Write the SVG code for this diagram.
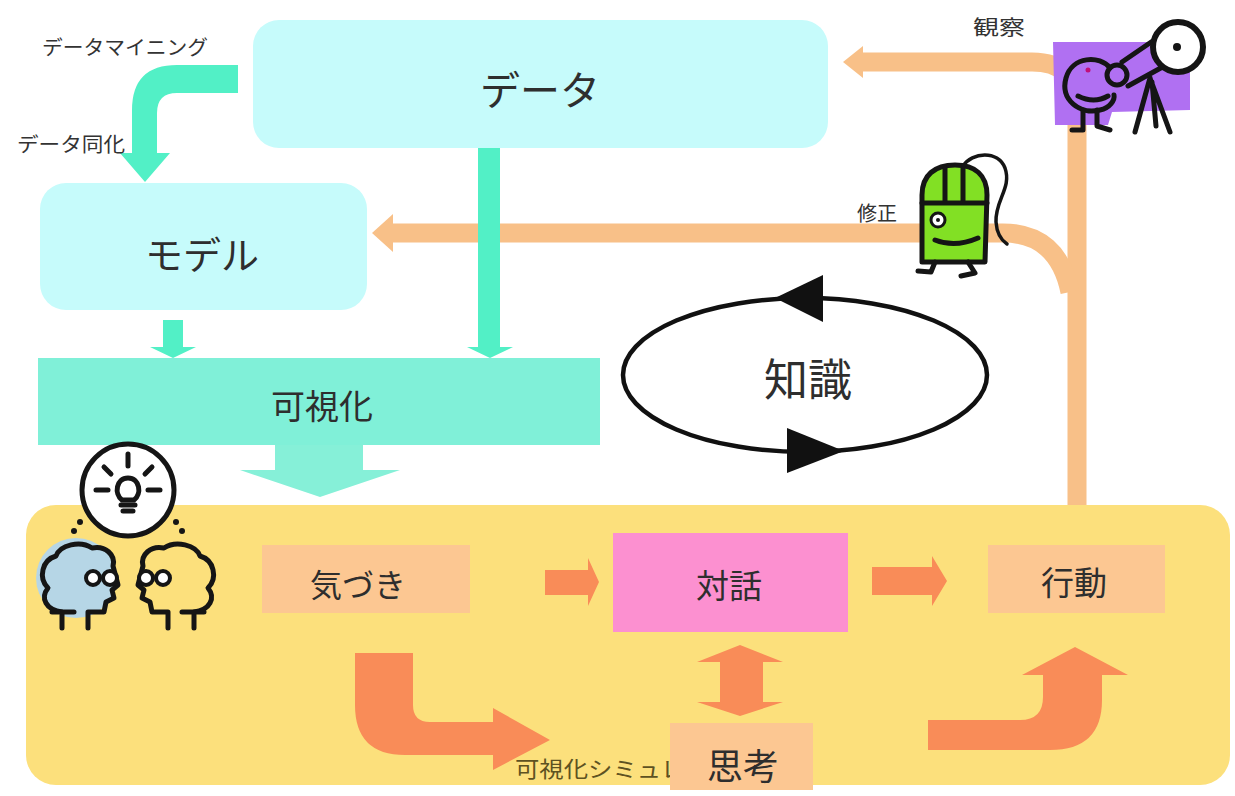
<svg xmlns="http://www.w3.org/2000/svg" width="1235" height="796" viewBox="0 0 1235 796">
  <style>
    .lbl { font-family: "Noto Sans CJK JP", "Noto Sans", sans-serif; fill: #2e2e2e; text-anchor: middle; dominant-baseline: central; }
    .small { font-family: "Noto Sans CJK JP", "Noto Sans", sans-serif; fill: #333; font-size: 20px; }
    .cyanbox { fill: #c6fbfb; }
    .greenarrow { fill: #52f0c6; }
    .peach { fill: none; stroke: #f8c088; stroke-width: 19; }
    .peachhead { fill: #f8c088; }
    .coral { fill: #f98c58; }
    .step { fill: #fcc792; }
    .ink { fill: none; stroke: #151515; stroke-width: 5; stroke-linecap: round; stroke-linejoin: round; }
  </style>

  <rect width="1235" height="796" fill="#ffffff"/>

  <!-- bottom panel -->
  <g id="panel">
    <rect x="26" y="505" width="1204" height="280" rx="30" fill="#fce07c"/>
  </g>

  <!-- top data store -->
  <g id="data">
    <rect class="cyanbox" x="253" y="20" width="575" height="128" rx="26"/>
    <text class="lbl" x="540" y="88" font-size="40">データ</text>
  </g>

  <g id="model">
    <rect class="cyanbox" x="40" y="183" width="327" height="127" rx="26"/>
    <text class="lbl" x="202" y="252" font-size="38">モデル</text>
  </g>

  <g id="visualization">
    <rect x="38" y="358" width="562" height="87" fill="#80f0d8"/>
    <text class="lbl" x="322" y="404" font-size="34">可視化</text>
    <path d="M275 445 H363 V470 H400 L320 497 L240 470 H275 Z" fill="#86f0d8"/>
  </g>

  <!-- knowledge loop -->
  <g id="knowledge">
    <ellipse cx="805" cy="375" rx="182" ry="77" fill="none" stroke="#111" stroke-width="4.5"/>
    <polygon points="775,298 823,275 823,322" fill="#111"/>
    <polygon points="844,451 787,428 787,473" fill="#111"/>
    <text class="lbl" x="808" y="377" font-size="44">知識</text>
  </g>

  <!-- connectors -->
  <g id="connectors">
    <!-- observation feed back to data -->
    <path class="peach" d="M860 62 H1032 Q1077 62 1077 107 V505"/>
    <polygon class="peachhead" points="843,62 863,46 863,78"/>
    <!-- correction feed back to model -->
    <path class="peach" d="M390 233 H1003 Q1058 233 1070 292"/>
    <polygon class="peachhead" points="372,233 393,214 393,252"/>

    <!-- data mining / assimilation -->
    <path class="greenarrow" d="M238 65 H177 Q132 65 132 110 V153 H120 L145 182 L170 153 H157 V113 Q157 93 177 93 H238 Z"/>
    <!-- data to visualization -->
    <path class="greenarrow" d="M478 148 H500 V347 H513 L490 358 L467 347 H478 Z"/>
    <!-- model to visualization -->
    <path class="greenarrow" d="M163 320 H183 V347 H196 L173 358 L150 347 H163 Z"/>

    <!-- flow inside the panel -->
    <path class="coral" d="M545 570 H588 V558 L599 582 L588 606 V595 H545 Z"/>
    <path class="coral" d="M872 567 H932 V556 L947 581 L932 606 V595 H872 Z"/>
    <path class="coral" d="M720 662 H697 L740 645 L783 662 H763 V702 H783 L740 716 L697 702 H720 Z"/>
    <path class="coral" d="M355 653 V705 Q355 755 405 755 H493 V770 L550 740 L493 708 V722 H430 Q413 722 413 705 V653 Z"/>
    <path class="coral" d="M928 720 H1020 Q1043 720 1043 697 V675 H1022 L1075 647 L1128 675 H1102 V700 Q1102 750 1050 750 H928 Z"/>

    <text class="small" x="42" y="55" textLength="166" lengthAdjust="spacingAndGlyphs">データマイニング</text>
    <text class="small" x="17" y="152" textLength="108" lengthAdjust="spacingAndGlyphs">データ同化</text>
    <text class="small" x="973" y="35" font-size="22" textLength="52" lengthAdjust="spacingAndGlyphs">観察</text>
    <text class="small" x="857" y="221" font-size="24">修正</text>
    <text x="515" y="777" font-family="Noto Sans CJK JP, Noto Sans, sans-serif" font-size="22" fill="#5e5222" textLength="170" lengthAdjust="spacingAndGlyphs">可視化シミュレ</text>
  </g>

  <!-- steps -->
  <g id="awareness">
    <rect class="step" x="262" y="545" width="208" height="68"/>
    <text class="lbl" x="358" y="583" font-size="32">気づき</text>
  </g>
  <g id="dialogue">
    <rect x="613" y="533" width="235" height="99" fill="#fc90d0"/>
    <text class="lbl" x="729" y="584" font-size="33">対話</text>
  </g>
  <g id="action">
    <rect class="step" x="988" y="545" width="177" height="68"/>
    <text class="lbl" x="1074" y="581" font-size="33">行動</text>
  </g>
  <g id="thinking">
    <rect class="step" x="670" y="723" width="143" height="67"/>
    <text class="lbl" x="743" y="764" font-size="36">思考</text>
  </g>

  <!-- observer with telescope -->
  <g id="observer">
    <polygon points="1053,42 1190,42 1190,110 1112,112 1108,125 1055,125" fill="#b070f2"/>
    <path class="ink" d="M1110 68 C1100 55 1072 56 1066 78 C1060 100 1080 115 1100 110 C1110 108 1115 100 1114 95"/>
    <circle cx="1088" cy="70" r="2.5" fill="#c0107a"/>
    <path class="ink" d="M1078 96 Q1094 104 1108 96"/>
    <circle class="ink" cx="1117" cy="75" r="10"/>
    <path class="ink" d="M1122 62 L1160 36 M1128 86 L1168 64"/>
    <circle cx="1178" cy="47" r="25" fill="#ffffff" stroke="#151515" stroke-width="6"/>
    <circle cx="1177" cy="47" r="4" fill="#151515"/>
    <path class="ink" d="M1150 78 L1135 132 M1150 78 L1170 132 M1152 82 L1156 126"/>
    <path class="ink" d="M1083 110 V130 H1072 M1097 110 V126 L1110 130"/>
  </g>

  <!-- mouse character -->
  <g id="corrector">
    <path d="M922 262 V195 C922 175 935 165 955 165 C975 165 987 175 987 195 L985 262 Z" fill="#82e024" stroke="#151515" stroke-width="5" stroke-linejoin="round"/>
    <path class="ink" d="M945 168 V203 M963 168 V203 M922 203 H987"/>
    <circle cx="938" cy="220" r="7" fill="#ffffff" stroke="#151515" stroke-width="3"/>
    <circle cx="938" cy="220" r="2" fill="#151515"/>
    <path class="ink" d="M935 240 Q955 248 978 238"/>
    <path class="ink" d="M935 262 L931 272 L918 271 M968 262 L975 273 L961 276"/>
    <path d="M963 166 C972 152 998 150 1005 168 C1012 188 995 200 996 222 C997 236 1004 242 1007 244" fill="none" stroke="#151515" stroke-width="3.5" stroke-linecap="round"/>
  </g>

  <!-- thinking people with light bulb -->
  <g id="people">
    <circle cx="76" cy="578" r="40" fill="#b6d6e6"/>
    <circle cx="128" cy="490" r="46" fill="#ffffff" stroke="#151515" stroke-width="5"/>
    <path class="ink" d="M128 454 V466 M96 490 H108 M148 490 H160 M104 467 L111 474 M152 467 L145 474"/>
    <path class="ink" d="M122 500 C114 494 116 478 128 478 C140 478 142 494 134 500 Z" stroke-width="4"/>
    <path class="ink" d="M121 505 H135 M123 511 H133" stroke-width="4"/>
    <circle cx="80" cy="522" r="3" fill="#151515"/>
    <circle cx="74" cy="531" r="3" fill="#151515"/>
    <circle cx="176" cy="522" r="3" fill="#151515"/>
    <circle cx="182" cy="531" r="3" fill="#151515"/>
    <path class="ink" d="M62 628 V612 C46 610 40 598 48 588 C38 578 42 560 56 556 C60 545 80 540 92 548 C105 545 116 555 113 566 L118 585 L112 590 L114 598 L106 602 L104 612 H88 V628" fill="none"/>
    <path class="ink" d="M194 628 V612 C210 610 216 598 208 588 C218 578 214 560 200 556 C196 545 176 540 164 548 C151 545 140 555 143 566 L138 585 L144 590 L142 598 L150 602 L152 612 H168 V628" fill="#e6dea6"/>
    <path class="ink" d="M52 612 H74 M182 612 H204"/>
    <circle cx="93" cy="578" r="7" fill="#ffffff" stroke="#151515" stroke-width="4"/>
    <circle cx="110" cy="578" r="7" fill="#ffffff" stroke="#151515" stroke-width="4"/>
    <circle cx="146" cy="578" r="7" fill="#ffffff" stroke="#151515" stroke-width="4"/>
    <circle cx="163" cy="578" r="7" fill="#ffffff" stroke="#151515" stroke-width="4"/>
  </g>
</svg>
